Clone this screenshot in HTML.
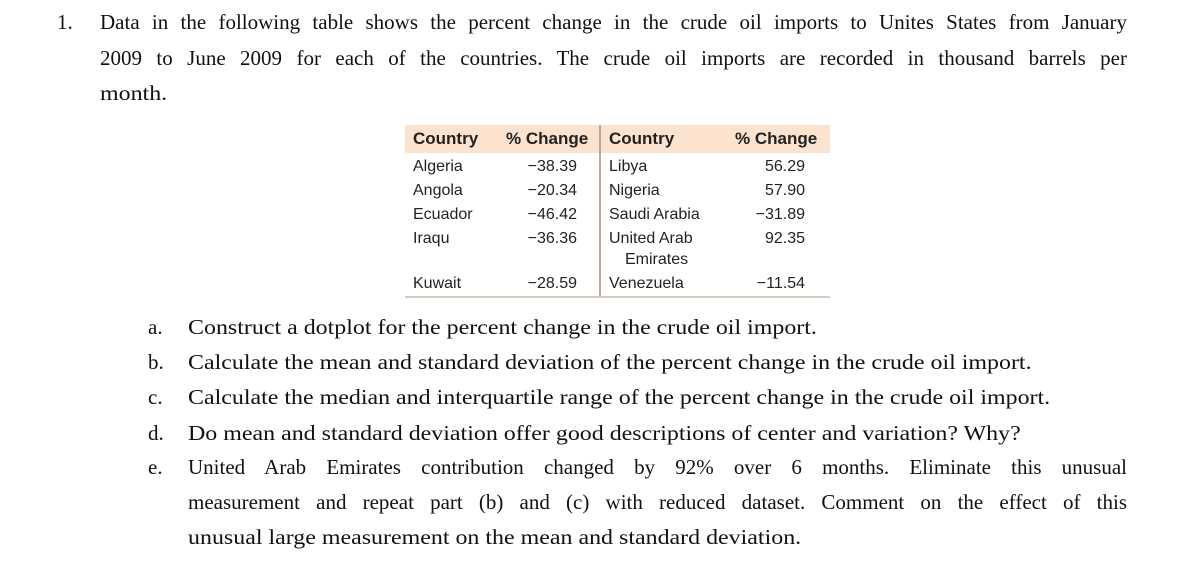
<!DOCTYPE html>
<html><head><meta charset="utf-8"><style>
body{margin:0;width:1200px;height:561px;background:#fff;position:relative;overflow:hidden;font-family:"Liberation Serif",serif;color:#111}
.t{position:absolute;font-size:21px;line-height:24px;white-space:nowrap;transform:scaleX(1.14);transform-origin:0 0}
.n{transform:none}
.j{position:absolute;left:100px;width:1027px;font-size:21px;line-height:24px;text-align:justify;text-align-last:justify}
.tb{position:absolute;font-family:"Liberation Sans",sans-serif;font-size:16px;line-height:18px;white-space:nowrap;color:#222}
.h{font-size:17px;font-weight:bold}
.r{text-align:right}
</style></head><body>
<div class="t n" style="left:57px;top:10px">1.</div>
<div class="j" style="top:10px">Data in the following table shows the percent change in the crude oil imports to Unites States from January</div>
<div class="j" style="top:46px">2009 to June 2009 for each of the countries. The crude oil imports are recorded in thousand barrels per</div>
<div class="t" style="left:100px;top:81px">month.</div>

<div style="position:absolute;left:405px;top:125px;width:425px;height:173px">
<div style="position:absolute;left:0;top:0;width:425px;height:28px;background:#fbe3d0"></div>
<div style="position:absolute;left:194px;top:0;width:2px;height:172px;background:#b9a89b"></div>
<div style="position:absolute;left:0;top:171px;width:425px;height:2px;background:#d8c9bd"></div>
</div>
<div class="tb h" style="left:413px;top:130px">Country</div>
<div class="tb h" style="left:506px;top:130px">% Change</div>
<div class="tb h" style="left:609px;top:130px">Country</div>
<div class="tb h" style="left:735px;top:130px">% Change</div>

<div class="tb" style="left:413px;top:158px">Algeria</div>
<div class="tb r" style="left:497px;width:80px;top:158px">−38.39</div>
<div class="tb" style="left:413px;top:182px">Angola</div>
<div class="tb r" style="left:497px;width:80px;top:182px">−20.34</div>
<div class="tb" style="left:413px;top:206px">Ecuador</div>
<div class="tb r" style="left:497px;width:80px;top:206px">−46.42</div>
<div class="tb" style="left:413px;top:230px">Iraqu</div>
<div class="tb r" style="left:497px;width:80px;top:230px">−36.36</div>
<div class="tb" style="left:413px;top:275px">Kuwait</div>
<div class="tb r" style="left:497px;width:80px;top:275px">−28.59</div>

<div class="tb" style="left:609px;top:158px">Libya</div>
<div class="tb r" style="left:725px;width:80px;top:158px">56.29</div>
<div class="tb" style="left:609px;top:182px">Nigeria</div>
<div class="tb r" style="left:725px;width:80px;top:182px">57.90</div>
<div class="tb" style="left:609px;top:206px">Saudi Arabia</div>
<div class="tb r" style="left:725px;width:80px;top:206px">−31.89</div>
<div class="tb" style="left:609px;top:230px">United Arab</div>
<div class="tb" style="left:625px;top:251px">Emirates</div>
<div class="tb r" style="left:725px;width:80px;top:230px">92.35</div>
<div class="tb" style="left:609px;top:275px">Venezuela</div>
<div class="tb r" style="left:725px;width:80px;top:275px">−11.54</div>

<div class="t n" style="left:148px;top:315px">a.</div>
<div class="t" style="left:188px;top:315px">Construct a dotplot for the percent change in the crude oil import.</div>
<div class="t n" style="left:148px;top:350px">b.</div>
<div class="t" style="left:188px;top:350px">Calculate the mean and standard deviation of the percent change in the crude oil import.</div>
<div class="t n" style="left:148px;top:385px">c.</div>
<div class="t" style="left:188px;top:385px">Calculate the median and interquartile range of the percent change in the crude oil import.</div>
<div class="t n" style="left:148px;top:421px">d.</div>
<div class="t" style="left:188px;top:421px">Do mean and standard deviation offer good descriptions of center and variation? Why?</div>
<div class="t n" style="left:148px;top:455px">e.</div>
<div class="j" style="left:188px;width:939px;top:455px">United Arab Emirates contribution changed by 92% over 6 months. Eliminate this unusual</div>
<div class="j" style="left:188px;width:939px;top:490px">measurement and repeat part (b) and (c) with reduced dataset. Comment on the effect of this</div>
<div class="t" style="left:188px;top:525px">unusual large measurement on the mean and standard deviation.</div>
</body></html>
